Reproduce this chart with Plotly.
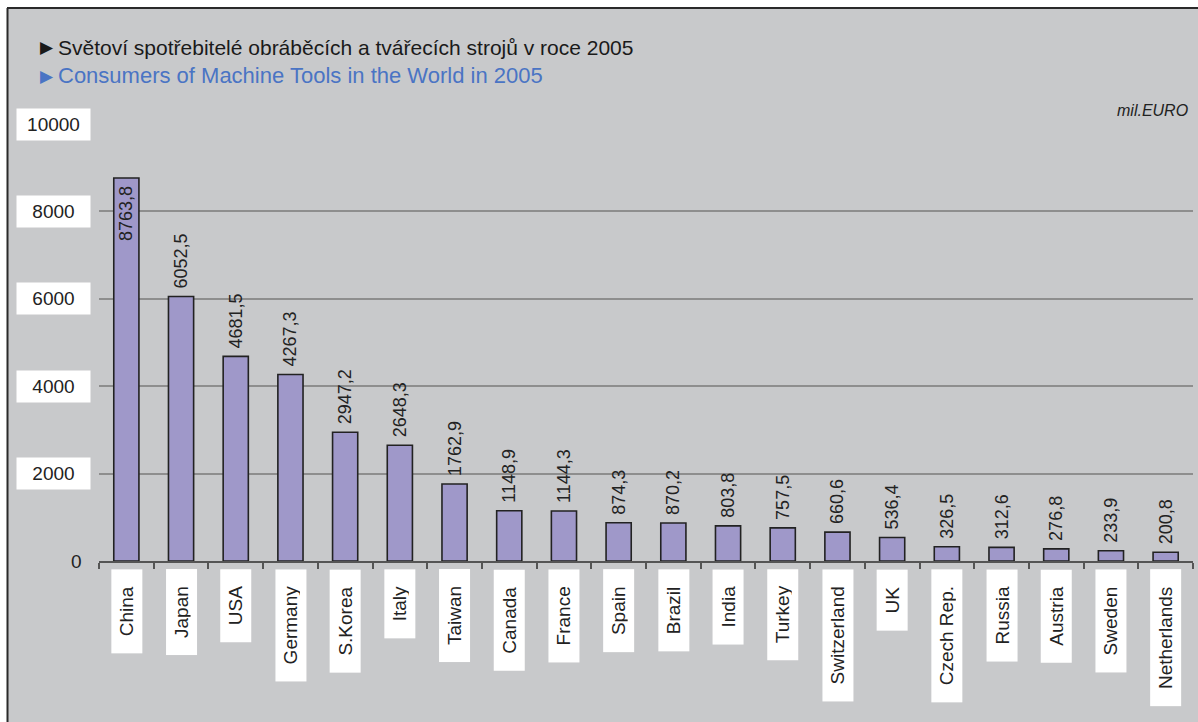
import plotly.graph_objects as go

# Consumption of machine tools by country, 2005 (mil. EUR)
countries = ["China", "Japan", "USA", "Germany", "S.Korea", "Italy", "Taiwan",
             "Canada", "France", "Spain", "Brazil", "India", "Turkey",
             "Switzerland", "UK", "Czech Rep.", "Russia", "Austria", "Sweden",
             "Netherlands"]
values = [8763.8, 6052.5, 4681.5, 4267.3, 2947.2, 2648.3, 1762.9, 1148.9,
          1144.3, 874.3, 870.2, 803.8, 757.5, 660.6, 536.4, 326.5, 312.6,
          276.8, 233.9, 200.8]
y_ticks = [0, 2000, 4000, 6000, 8000, 10000]

title_cz = "Světoví spotřebitelé obráběcích a tvářecích strojů v roce 2005"
title_en = "Consumers of Machine Tools in the World in 2005"
unit_label = "mil.EURO"

W, H = 1198, 722
L, R, T, B = 99, 5, 124, 161
PW, PH = W - L - R, H - T - B

FONT = "Liberation Sans, Arial, sans-serif"
BG = "#c8c9cb"
TXT = "#222222"
BLUE = "#4a74c4"


def px_x(px):
    return (px - L) / PW


def px_y(py):
    return (H - B - py) / PH


def fmt(v):
    return f"{v:.1f}".replace(".", ",")


# the tallest bar carries its label inside, the others above the bar
positions = ["inside" if v > 8000 else "outside" for v in values]
labels = [fmt(v) + "\u00a0" if p == "inside" else "\u00a0" + fmt(v)
          for v, p in zip(values, positions)]

fig = go.Figure(go.Bar(
    x=countries, y=values,
    width=0.46,
    marker=dict(color="#9f98c9", line=dict(color="#222222", width=1.6)),
    text=labels,
    textposition=positions,
    insidetextanchor="end",
    textangle=-90,
    constraintext="none",
    textfont=dict(family=FONT, size=18, color=TXT),
    insidetextfont=dict(family=FONT, size=18, color=TXT),
    outsidetextfont=dict(family=FONT, size=18, color=TXT),
    cliponaxis=False,
    hoverinfo="skip",
))

annotations = []

# title lines, each led by a triangle marker
for text, py, size, color in [(title_cz, 47, 21, "#1a1a1a"),
                              (title_en, 76, 22, BLUE)]:
    annotations.append(dict(
        xref="paper", yref="paper", x=px_x(38), y=px_y(py),
        xanchor="left", yanchor="middle", showarrow=False,
        text="\u25b6", font=dict(family="DejaVu Sans", size=17, color=color),
    ))
    annotations.append(dict(
        xref="paper", yref="paper", x=px_x(56), y=px_y(py),
        xanchor="left", yanchor="middle", showarrow=False,
        text=text, font=dict(family=FONT, size=size, color=color),
    ))

annotations.append(dict(
    xref="paper", yref="paper", x=px_x(1190), y=px_y(110),
    xanchor="right", yanchor="middle", showarrow=False,
    text="<i>" + unit_label + "</i>",
    font=dict(family=FONT, size=16, color=TXT),
))

# y tick labels in white boxes (zero without a box)
for t in y_ticks:
    if t == 0:
        annotations.append(dict(
            xref="paper", yref="y", x=px_x(84), y=t,
            xanchor="right", yanchor="middle", showarrow=False,
            text=str(t), font=dict(family=FONT, size=19, color=TXT),
        ))
    else:
        annotations.append(dict(
            xref="paper", yref="y", x=px_x(53.5), y=t,
            xanchor="center", yanchor="middle", showarrow=False,
            text=str(t), font=dict(family=FONT, size=19, color=TXT),
            bgcolor="white", borderpad=6, borderwidth=1,
            bordercolor="rgba(0,0,0,0)", width=61, height=19,
        ))

# category labels, rotated, in white boxes
for c in countries:
    annotations.append(dict(
        xref="x", yref="paper", x=c, y=px_y(569),
        xanchor="center", yanchor="top", showarrow=False,
        text="\u00a0\u00a0" + c + "\u00a0\u00a0", textangle=-90,
        font=dict(family=FONT, size=19, color=TXT),
        bgcolor="white", borderpad=6, borderwidth=1,
        bordercolor="rgba(0,0,0,0)", height=18,
    ))

shapes = [
    # white margin strips and the dark frame around the grey panel
    dict(type="rect", xref="paper", yref="paper", layer="below",
         x0=px_x(-5), x1=px_x(W + 5), y0=px_y(8), y1=px_y(-5),
         fillcolor="white", line=dict(width=0)),
    dict(type="rect", xref="paper", yref="paper", layer="below",
         x0=px_x(-5), x1=px_x(7), y0=px_y(H + 5), y1=px_y(-5),
         fillcolor="white", line=dict(width=0)),
    dict(type="line", xref="paper", yref="paper", layer="above",
         x0=px_x(7), x1=px_x(W + 5), y0=px_y(8), y1=px_y(8),
         line=dict(color="#2a2a2a", width=2)),
    dict(type="line", xref="paper", yref="paper", layer="above",
         x0=px_x(7.5), x1=px_x(7.5), y0=px_y(8), y1=px_y(H + 5),
         line=dict(color="#2a2a2a", width=2)),
]

fig.update_layout(
    width=W, height=H,
    margin=dict(l=L, r=R, t=T, b=B, pad=0),
    paper_bgcolor=BG, plot_bgcolor=BG,
    showlegend=False,
    bargap=0.54,
    annotations=annotations,
    shapes=shapes,
    xaxis=dict(
        type="category", showticklabels=False, showgrid=False,
        showline=True, linecolor="#555555", linewidth=1.5,
        ticks="outside", tickson="boundaries", ticklen=6,
        tickcolor="#555555", tickwidth=1.5, zeroline=False,
    ),
    yaxis=dict(
        range=[0, 10000], tickvals=y_ticks, showticklabels=False,
        showgrid=True, gridcolor="#8e8e8e", gridwidth=1.5,
        zeroline=False, showline=False, ticks="",
    ),
)

fig.write_html("out.html")
